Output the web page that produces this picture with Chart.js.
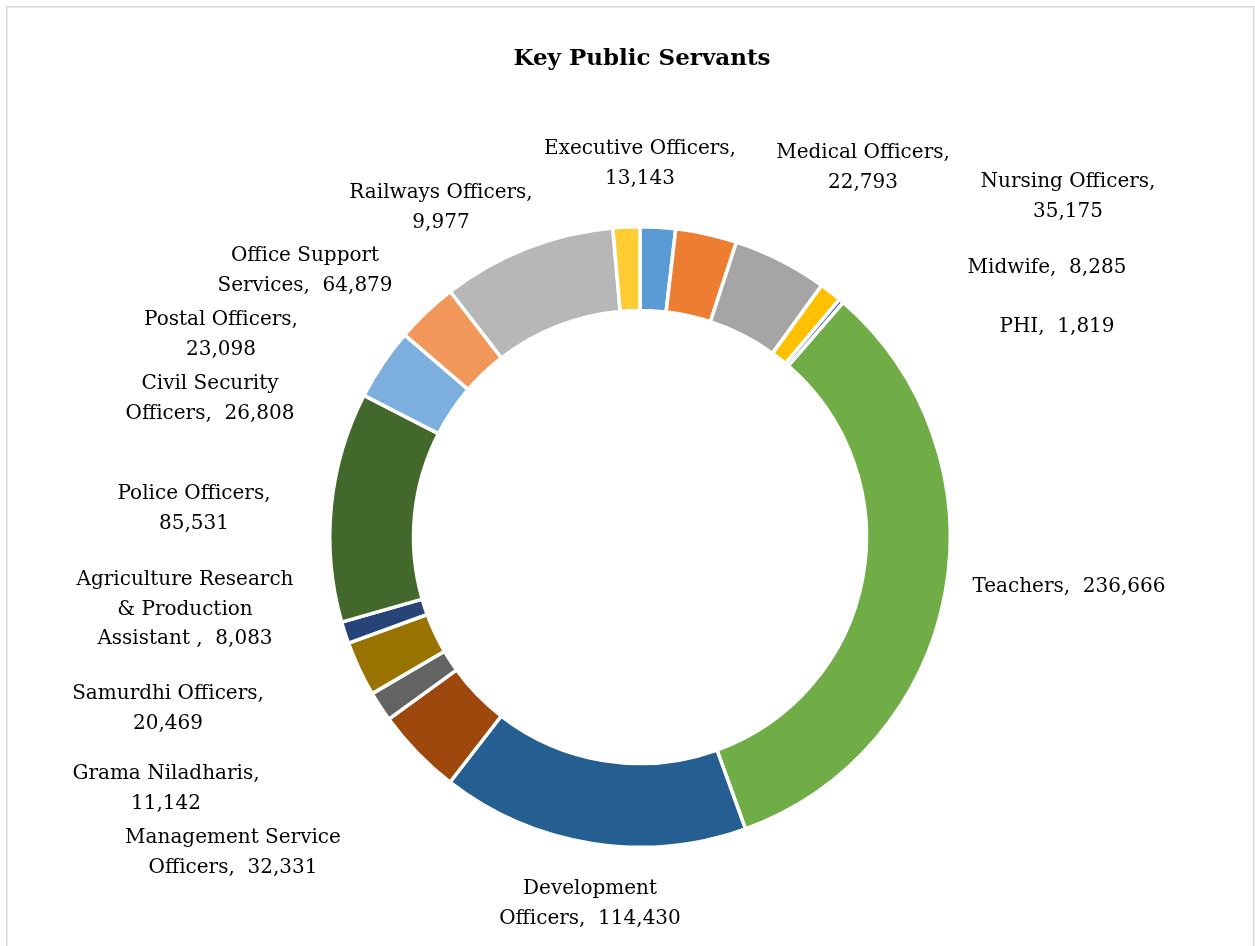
<!DOCTYPE html>
<html>
<head>
<meta charset="utf-8">
<script src="https://cdn.jsdelivr.net/npm/chart.js@4/dist/chart.umd.min.js"></script>
<style>
    html, body { margin: 0; padding: 0; background: #fff; }
    #wrap { width: 1255px; height: 946px; position: relative; }
</style>
</head>
<body>
<div id="wrap"><canvas id="servantsChart" width="1255" height="946"></canvas></div>
<script>
const categories = [
    'Executive Officers', 'Medical Officers', 'Nursing Officers', 'Midwife', 'PHI',
    'Teachers', 'Development Officers', 'Management Service Officers', 'Grama Niladharis',
    'Samurdhi Officers', 'Agriculture Research & Production Assistant ', 'Police Officers',
    'Civil Security Officers', 'Postal Officers', 'Office Support Services', 'Railways Officers'
];
const servants = [
    13143, 22793, 35175, 8285, 1819,
    236666, 114430, 32331, 11142,
    20469, 8083, 85531,
    26808, 23098, 64879, 9977
];
const sliceColors = [
    '#5B9BD5', '#ED7D31', '#A5A5A5', '#FFC000', '#4472C4',
    '#70AD47', '#255E91', '#9E480E', '#636363',
    '#997300', '#264478', '#43682B',
    '#7CAFDD', '#F1975A', '#B7B7B7', '#FFCD33'
];

// where each data label sits (centre x, first baseline y) and how it wraps
const labelSpots = [
    { x: 640, y: 154, stack: true },
    { x: 863, y: 158, stack: true },
    { x: 1068, y: 187, stack: true },
    { x: 1047, y: 273 },
    { x: 1057, y: 332 },
    { x: 1069, y: 592 },
    { x: 590, y: 894, wrap: [1] },
    { x: 233, y: 843, wrap: [2] },
    { x: 166, y: 779, stack: true },
    { x: 168, y: 699, stack: true },
    { x: 185, y: 585, wrap: [2, 2] },
    { x: 194, y: 499, stack: true },
    { x: 210, y: 389, wrap: [2] },
    { x: 221, y: 325, stack: true },
    { x: 305, y: 261, wrap: [2] },
    { x: 441, y: 198, stack: true }
];

const LABEL_FONT = '20px "DejaVu Serif"';
const LINE_H = 29.5;

function fmt(v) {
    return v.toLocaleString('en-US');
}

function buildLines(name, value, spec) {
    const words = name.trim().split(' ');
    const lines = [];
    let i = 0;
    (spec.wrap || []).forEach(n => {
        lines.push(words.slice(i, i + n).join(' '));
        i += n;
    });
    let last = words.slice(i).join(' ');
    if (name.endsWith(' ')) last += ' ';
    if (spec.stack) {
        lines.push(last + ',');
        lines.push(fmt(value));
    } else {
        lines.push(last + ',  ' + fmt(value));
    }
    return lines;
}

const frameAndLabels = {
    id: 'frameAndLabels',
    beforeDraw(chart) {
        const ctx = chart.ctx;
        ctx.save();
        ctx.fillStyle = '#fff';
        ctx.fillRect(0, 0, chart.width, chart.height);
        ctx.strokeStyle = '#D9D9D9';
        ctx.lineWidth = 1.5;
        ctx.strokeRect(6.75, 6.75, 1247, 1000);
        ctx.restore();
    },
    afterDraw(chart) {
        const ctx = chart.ctx;
        ctx.save();
        ctx.fillStyle = '#000';
        ctx.textAlign = 'center';
        ctx.textBaseline = 'alphabetic';

        ctx.font = 'bold 23px "DejaVu Serif"';
        ctx.fillText('Key Public Servants', 642, 65);

        ctx.font = LABEL_FONT;
        categories.forEach((name, i) => {
            const spec = labelSpots[i];
            buildLines(name, servants[i], spec).forEach((line, k) => {
                ctx.fillText(line, spec.x, spec.y + k * LINE_H);
            });
        });
        ctx.restore();
    }
};

const ctx = document.getElementById('servantsChart').getContext('2d');
const chart = new Chart(ctx, {
    type: 'doughnut',
    data: {
        labels: categories,
        datasets: [{
            data: servants,
            backgroundColor: sliceColors,
            borderColor: '#ffffff',
            borderWidth: 3.5
        }]
    },
    options: {
        responsive: false,
        animation: false,
        cutout: '73%',
        layout: {
            padding: { left: 328, right: 303, top: 225, bottom: 97 }
        },
        plugins: {
            legend: { display: false },
            tooltip: { enabled: false },
            title: { display: false }
        }
    },
    plugins: [frameAndLabels]
});
</script>
</body>
</html>
